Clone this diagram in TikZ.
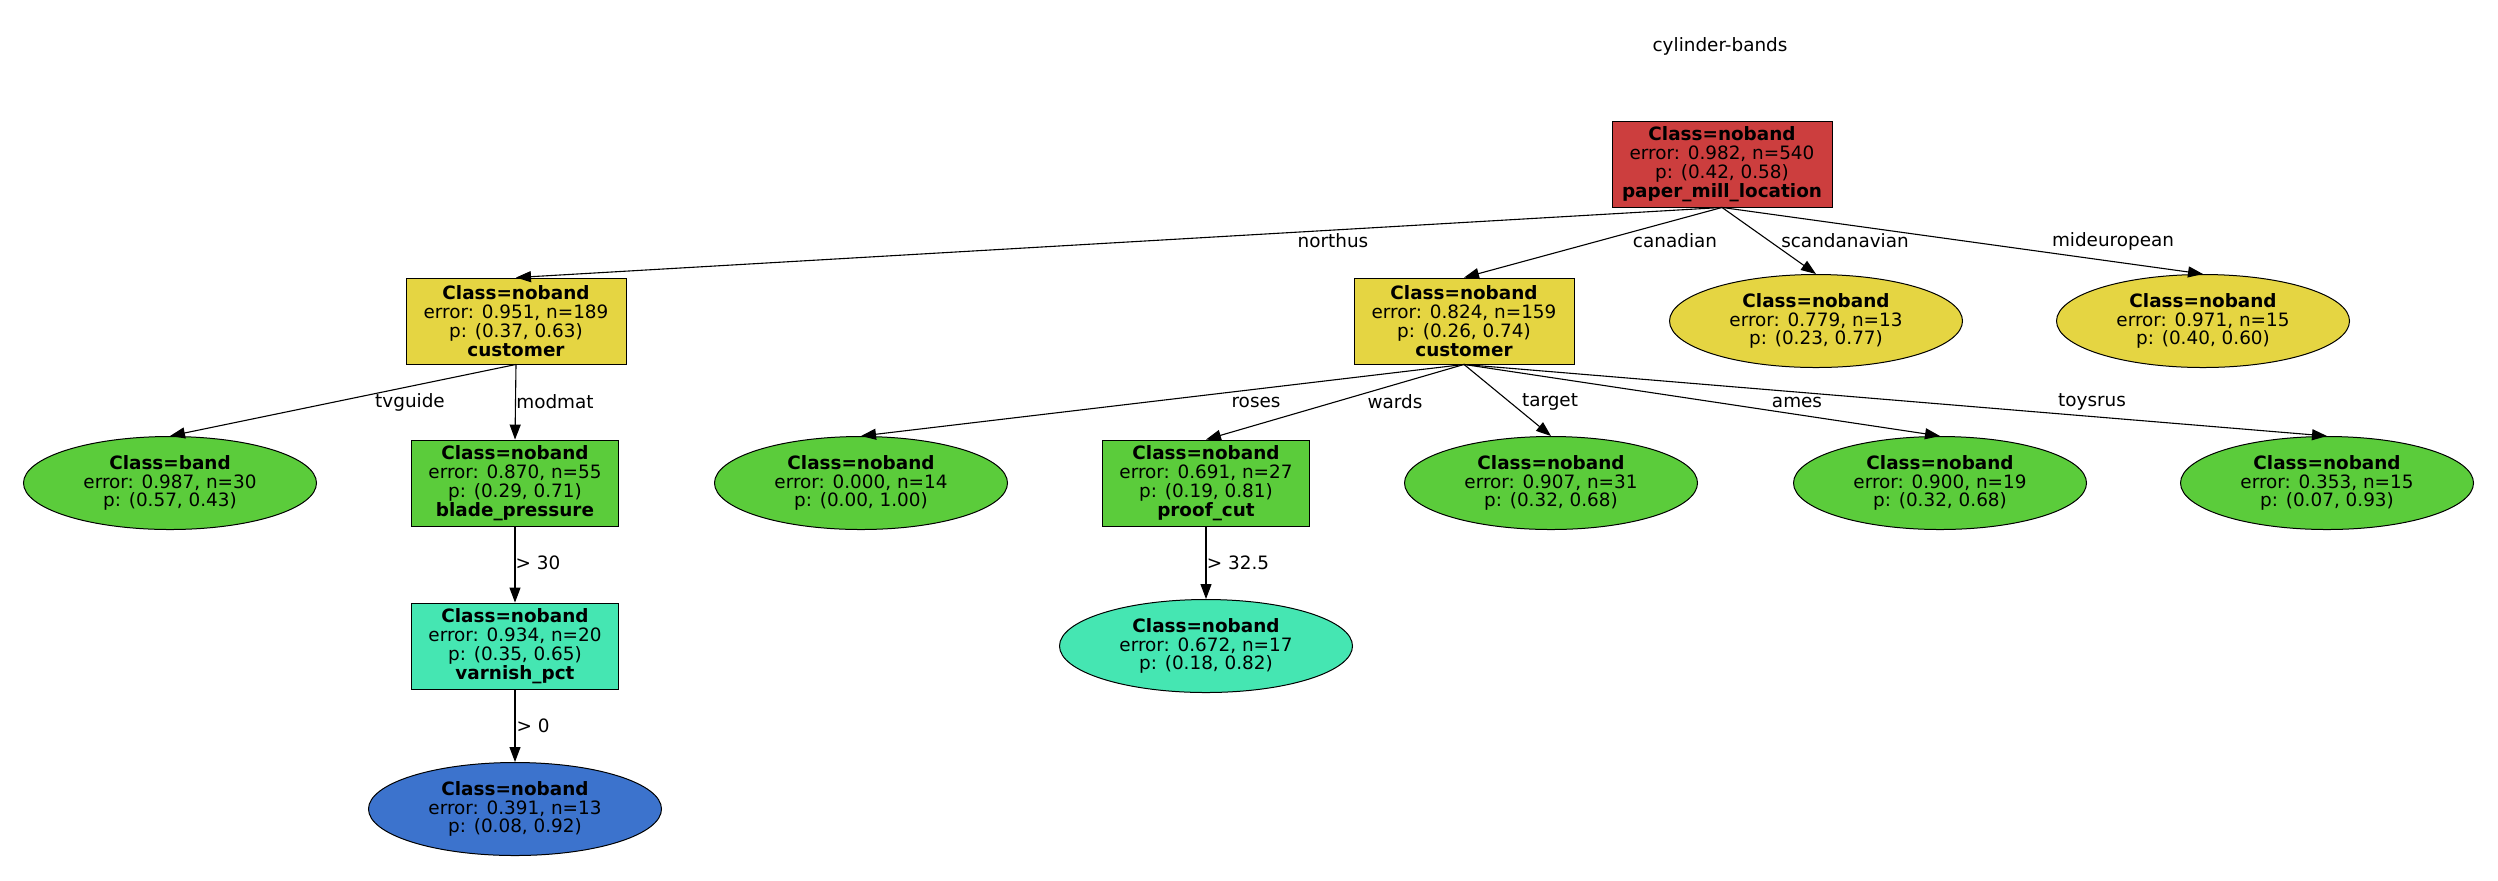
\documentclass[tikz,border=0pt]{standalone}
\usepackage{fontspec}
\setmainfont{DejaVu Sans}
\usetikzlibrary{shapes.geometric,arrows.meta}
\definecolor{splitred}{RGB}{204,62,62}
\definecolor{splityellow}{RGB}{229,213,66}
\definecolor{leafgreen}{RGB}{91,204,59}
\definecolor{leafteal}{RGB}{69,230,178}
\definecolor{leafblue}{RGB}{60,115,205}
\begin{document}
\begin{tikzpicture}[x=0.5pt,y=0.5pt,yscale=-1,
	every node/.style={font=\fontsize{9.2}{9.4}\selectfont, align=center},
	splitnode/.style={draw, rectangle, line width=0.45pt, inner sep=0pt, minimum width=103.5pt, minimum height=43pt},
	widesplit/.style={splitnode, minimum width=110pt},
	leafnode/.style={draw, ellipse, line width=0.5pt, inner sep=0pt, minimum width=146.5pt, minimum height=46.5pt},
	edgelabel/.style={inner sep=0pt},
	treeedge/.style={-{Triangle[length=7.5pt,width=5.5pt]}, line width=0.55pt}]
		\useasboundingbox (0,0) rectangle (2498,880);
		\node (title) at (1720,46) {cylinder-bands};
		\node [widesplit, fill=splitred] (root) at (1722,164) {\textbf{Class=noband}\\error: 0.982, n=540\\p: (0.42, 0.58)\\\textbf{paper\_mill\_location}};
		\node [widesplit, fill=splityellow] (custa) at (516,321) {\textbf{Class=noband}\\error: 0.951, n=189\\p: (0.37, 0.63)\\\textbf{customer}};
		\node [widesplit, fill=splityellow] (custb) at (1464,321) {\textbf{Class=noband}\\error: 0.824, n=159\\p: (0.26, 0.74)\\\textbf{customer}};
		\node [leafnode, fill=splityellow] (scand) at (1816,321) {\textbf{Class=noband}\\error: 0.779, n=13\\p: (0.23, 0.77)};
		\node [leafnode, fill=splityellow] (mideu) at (2203,321) {\textbf{Class=noband}\\error: 0.971, n=15\\p: (0.40, 0.60)};
		\node [leafnode, fill=leafgreen] (tvguide) at (170,483) {\textbf{Class=band}\\error: 0.987, n=30\\p: (0.57, 0.43)};
		\node [splitnode, fill=leafgreen] (blade) at (515,483) {\textbf{Class=noband}\\error: 0.870, n=55\\p: (0.29, 0.71)\\\textbf{blade\_pressure}};
		\node [leafnode, fill=leafgreen] (roses) at (861,483) {\textbf{Class=noband}\\error: 0.000, n=14\\p: (0.00, 1.00)};
		\node [splitnode, fill=leafgreen] (proof) at (1206,483) {\textbf{Class=noband}\\error: 0.691, n=27\\p: (0.19, 0.81)\\\textbf{proof\_cut}};
		\node [leafnode, fill=leafgreen] (target) at (1551,483) {\textbf{Class=noband}\\error: 0.907, n=31\\p: (0.32, 0.68)};
		\node [leafnode, fill=leafgreen] (ames) at (1940,483) {\textbf{Class=noband}\\error: 0.900, n=19\\p: (0.32, 0.68)};
		\node [leafnode, fill=leafgreen] (toysrus) at (2327,483) {\textbf{Class=noband}\\error: 0.353, n=15\\p: (0.07, 0.93)};
		\node [splitnode, fill=leafteal] (varnish) at (515,646) {\textbf{Class=noband}\\error: 0.934, n=20\\p: (0.35, 0.65)\\\textbf{varnish\_pct}};
		\node [leafnode, fill=leafteal] (proofleaf) at (1206,646) {\textbf{Class=noband}\\error: 0.672, n=17\\p: (0.18, 0.82)};
		\node [leafnode, fill=leafblue] (varnishleaf) at (515,809) {\textbf{Class=noband}\\error: 0.391, n=13\\p: (0.08, 0.92)};
		\draw [treeedge] (root.south) -- (custa.north);
		\draw [treeedge] (root.south) -- (custb.north);
		\draw [treeedge] (root.south) -- (scand.north);
		\draw [treeedge] (root.south) -- (mideu.north);
		\draw [treeedge] (custa.south) -- (tvguide.north);
		\draw [treeedge] (custa.south) -- (blade.north);
		\draw [treeedge] (custb.south) -- (roses.north);
		\draw [treeedge] (custb.south) -- (proof.north);
		\draw [treeedge] (custb.south) -- (target.north);
		\draw [treeedge] (custb.south) -- (ames.north);
		\draw [treeedge] (custb.south) -- (toysrus.north);
		\draw [treeedge] (blade.south) -- (varnish.north);
		\draw [treeedge] (proof.south) -- (proofleaf.north);
		\draw [treeedge] (varnish.south) -- (varnishleaf.north);
		\node [edgelabel] (lnorthus) at (1333,241) {northus};
		\node [edgelabel] (lcanadian) at (1675,241) {canadian};
		\node [edgelabel] (lscand) at (1845,241) {scandanavian};
		\node [edgelabel] (lmideu) at (2113,241) {mideuropean};
		\node [edgelabel] (ltvguide) at (410,402) {tvguide};
		\node [edgelabel] (lmodmat) at (555,402) {modmat};
		\node [edgelabel] (lroses) at (1256,402) {roses};
		\node [edgelabel] (lwards) at (1395,402) {wards};
		\node [edgelabel] (ltarget) at (1550,402) {target};
		\node [edgelabel] (lames) at (1797,402) {ames};
		\node [edgelabel] (ltoysrus) at (2092,402) {toysrus};
		\node [edgelabel] (lblade) at (538,563) {> 30};
		\node [edgelabel] (lproof) at (1238,563) {> 32.5};
		\node [edgelabel] (lvarnish) at (533,726) {> 0};
\end{tikzpicture}
\end{document}
